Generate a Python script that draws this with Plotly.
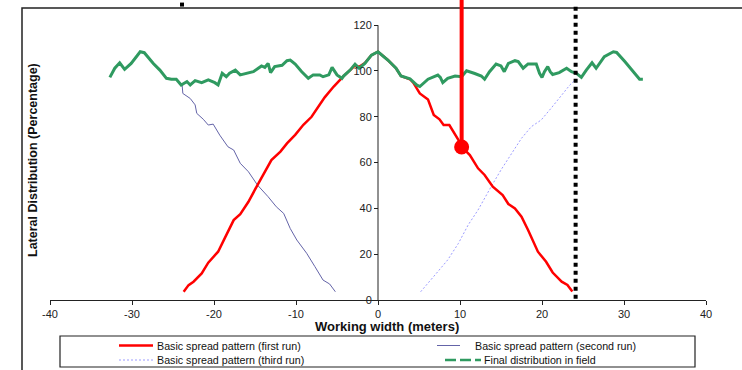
import plotly.graph_objects as go

# ---------------- data ----------------
first_run_x = [-23.7, -23.1, -22.5, -21.5, -20.7, -19.5, -18.7, -17.6, -16.8, -15.8, -14.7, -14.0, -13.0,
               -11.9, -11.1, -10.1, -9.1, -8.1, -7.4, -6.5, -5.4, -4.6, -4.2, -3.4, -2.8, -2.3, -1.6, -0.8,
               0.0, 1.2, 2.2, 2.8, 3.9, 4.3, 5.1, 6.1, 6.8, 7.5, 8.0, 8.7, 9.8, 10.2, 11.2, 12.2, 13.0, 14.0,
               15.2, 15.9, 16.7, 17.5, 18.3, 19.5, 20.5, 21.3, 22.4, 23.1, 23.7]
first_run_y = [3.6, 6.5, 8.0, 11.6, 16.3, 21.1, 26.9, 34.9, 37.5, 42.9, 50.2, 54.6, 61.1,
               64.8, 68.4, 72.1, 76.5, 80.0, 83.5, 88.5, 93.2, 96.4, 97.8, 100.4, 102.5, 101.8, 103.5, 106.9,
               108.4, 104.8, 101.2, 97.8, 96.4, 94.9, 90.2, 87.5, 80.8, 78.9, 76.4, 76.4, 69.9, 66.9, 63.3, 57.5,
               54.6, 49.5, 45.8, 41.9, 40.0, 36.4, 30.6, 21.1, 16.7, 12.0, 8.0, 6.6, 3.7]

second_run_x = [-23.9, -23.8, -22.9, -22.3, -22.1, -21.3, -20.7, -20.1, -19.3, -18.3, -17.6, -16.8, -15.8,
                -14.7, -13.4, -12.4, -11.5, -10.7, -9.9, -8.7, -7.7, -6.7, -5.9, -5.2]
second_run_y = [94.5, 90.2, 88.0, 85.2, 81.5, 78.9, 76.4, 76.8, 72.0, 66.9, 65.5, 59.7, 56.0,
                50.2, 45.1, 40.7, 37.8, 31.2, 26.2, 20.4, 14.6, 8.7, 7.0, 3.6]

third_run_x = [5.2, 6.3, 7.3, 8.5, 9.8, 11.0, 12.2, 13.8, 15.0, 16.3, 17.5, 18.7, 19.9, 21.1, 22.4, 23.4, 24.0]
third_run_y = [3.6, 8.0, 12.4, 17.5, 24.7, 32.8, 39.3, 49.5, 56.8, 64.0, 70.6, 75.7, 78.6, 83.7, 89.5, 93.9, 96.0]

final_x = [-32.7, -32.1, -31.5, -30.9, -30.1, -29.0, -28.5, -27.4, -26.6, -25.8, -25.2, -24.6, -24.0, -23.3,
           -22.9, -22.3, -21.5, -20.7, -19.9, -19.5, -19.0, -18.5, -18.1, -17.4, -16.8, -16.0, -15.2, -14.6,
           -14.2, -13.8, -13.4, -13.1, -12.6, -11.7, -11.1, -10.7, -10.1, -9.3, -8.5, -7.9, -7.1, -6.7, -6.0,
           -5.6, -5.0, -4.4, -4.2, -3.4, -2.8, -2.3, -1.6, -0.8, 0.0, 1.2, 2.2, 2.8, 3.9, 4.7, 5.1, 6.1, 7.3,
           7.6, 7.9, 8.5, 9.4, 10.2, 10.8, 11.8, 12.6, 13.0, 13.6, 14.4, 15.0, 15.4, 15.9, 16.7, 17.1, 17.7,
           18.3, 19.3, 19.7, 20.0, 20.3, 20.7, 21.0, 21.3, 22.1, 23.0, 23.6, 24.2, 24.8, 25.4, 26.1, 26.6,
           27.6, 28.7, 29.1, 30.1, 31.1, 31.9, 32.3]
final_y = [97.2, 101.2, 103.6, 100.7, 103.3, 108.4, 108.0, 103.3, 100.4, 96.8, 96.4, 96.4, 93.9, 95.4,
           93.9, 95.8, 94.9, 96.1, 94.9, 93.9, 99.0, 97.5, 99.0, 100.4, 98.3, 99.0, 99.7, 101.2,
           102.2, 101.6, 103.3, 99.3, 101.9, 102.5, 104.5, 104.8, 103.0, 99.7, 96.8, 98.3, 98.3, 97.5, 98.3,
           101.6, 98.3, 96.8, 97.8, 100.4, 103.0, 101.2, 103.3, 106.9, 108.4, 104.8, 101.2, 97.8, 96.6, 93.9,
           93.2, 96.4, 98.2, 97.2, 94.9, 96.8, 97.8, 97.5, 100.1, 98.9, 97.8, 96.4, 99.7, 103.0, 102.2, 99.7,
           103.3, 104.5, 104.1, 101.2, 103.1, 103.1, 99.0, 97.2, 99.7, 101.9, 99.7, 98.5, 99.3, 101.2, 99.7,
           99.0, 97.2, 100.4, 103.6, 101.2, 106.3, 108.4, 108.1, 104.1, 99.7, 96.4, 96.4]

position_x = 10.2      # current position marker
position_y = 66.8
boundary_x = 24.1      # field boundary (dotted)
boundary_left_x = -23.9

x_ticks = [-40, -30, -20, -10, 0, 10, 20, 30, 40]
y_ticks = [0, 20, 40, 60, 80, 100, 120]

series_names = ["Basic spread pattern (first run)", "Basic spread pattern (second run)",
                "Basic spread pattern (third run)", "Final distribution in field"]

RED = "#ff0000"
BLUE = "#6464a8"
LIGHT = "#9c9cff"
GREEN = "#2f9a60"
FONT = "Liberation Sans, Arial, sans-serif"

fig = go.Figure()
fig.add_trace(go.Scatter(x=second_run_x, y=second_run_y, mode="lines",
                         line=dict(color=BLUE, width=1), name=series_names[1], showlegend=False))
fig.add_trace(go.Scatter(x=third_run_x, y=third_run_y, mode="lines",
                         line=dict(color=LIGHT, width=1, dash="2px,2px"), name=series_names[2], showlegend=False))
fig.add_trace(go.Scatter(x=first_run_x, y=first_run_y, mode="lines",
                         line=dict(color=RED, width=2.5), name=series_names[0], showlegend=False))
fig.add_trace(go.Scatter(x=final_x, y=final_y, mode="lines",
                         line=dict(color=GREEN, width=3), name=series_names[3], showlegend=False))
# position marker
fig.add_trace(go.Scatter(x=[position_x, position_x], y=[position_y, 131], mode="lines",
                         line=dict(color=RED, width=4), showlegend=False))
fig.add_trace(go.Scatter(x=[position_x], y=[position_y], mode="markers",
                         marker=dict(color=RED, size=15), showlegend=False))
# boundary dotted line
fig.add_trace(go.Scatter(x=[boundary_x, boundary_x], y=[0.5, 129.5], mode="lines",
                         line=dict(color="black", width=4, dash="4px,4px"), showlegend=False))
fig.add_trace(go.Scatter(x=[boundary_left_x], y=[129], mode="markers",
                         marker=dict(color="black", size=4, symbol="square"), showlegend=False))

W, H = 742, 370
L, R, T, B = 50, 36, 0, 70
pw, ph = W - L - R, H - T - B


def px2x(px):
    return (px - L) / pw


def py2y(py):
    return (T + ph - py) / ph


shapes = []
# outer frame (clipped by the page on the right and bottom)
shapes.append(dict(type="rect", xref="paper", yref="paper", x0=px2x(22), x1=1.2, y0=-0.6, y1=py2y(8),
                   line=dict(color="#222", width=1.5), layer="below"))
# y axis line at x = 0
shapes.append(dict(type="line", xref="x", yref="y", x0=0, x1=0, y0=0, y1=120,
                   line=dict(color="#222", width=1), layer="below"))
# legend box
shapes.append(dict(type="rect", xref="paper", yref="paper", x0=px2x(60), x1=px2x(695),
                   y0=py2y(367), y1=py2y(336), line=dict(color="#222", width=1.2), fillcolor="white"))
row1, row2 = py2y(345.5), py2y(360)
shapes.append(dict(type="line", xref="paper", yref="paper", x0=px2x(119), x1=px2x(153), y0=row1, y1=row1,
                   line=dict(color=RED, width=2.5)))
shapes.append(dict(type="line", xref="paper", yref="paper", x0=px2x(119), x1=px2x(153), y0=row2, y1=row2,
                   line=dict(color=LIGHT, width=1, dash="2px,2px")))
shapes.append(dict(type="line", xref="paper", yref="paper", x0=px2x(437), x1=px2x(460), y0=row1, y1=row1,
                   line=dict(color=BLUE, width=1)))
shapes.append(dict(type="line", xref="paper", yref="paper", x0=px2x(445), x1=px2x(481), y0=row2, y1=row2,
                   line=dict(color=GREEN, width=2.5, dash="11px,4px")))

annotations = [
    dict(text="<b>Working width (meters)</b>", xref="paper", yref="paper", x=px2x(387), y=py2y(326),
         xanchor="center", yanchor="middle",
         showarrow=False, font=dict(family=FONT, size=13, color="#111")),
    dict(text="<b>Lateral Distribution (Percentage)</b>", xref="paper", yref="paper", x=px2x(33),
         y=py2y(160), xanchor="center", yanchor="middle", textangle=-90, showarrow=False,
         font=dict(family=FONT, size=12.5, color="#111")),
]
for txt, xp, yr in [(series_names[0], 155, row1), (series_names[2], 155, row2),
                    (series_names[1], 473, row1), (series_names[3], 482, row2)]:
    annotations.append(dict(text=txt, xref="paper", yref="paper", x=px2x(xp), y=yr, xanchor="left",
                            yanchor="middle", showarrow=False, font=dict(family=FONT, size=10.7, color="#111")))

fig.update_layout(
    width=W, height=H,
    margin=dict(l=L, r=R, t=T, b=B),
    paper_bgcolor="white", plot_bgcolor="white",
    showlegend=False,
    font=dict(family=FONT, size=11, color="#222"),
    xaxis=dict(range=[-40, 40], tickvals=x_ticks, ticktext=[str(v) for v in x_ticks],
               showgrid=False, zeroline=False, showline=True, linecolor="#222", linewidth=1,
               ticks="outside", ticklen=4, tickcolor="#222", tickfont=dict(size=11, color="#222")),
    yaxis=dict(range=[0, 131], tickvals=y_ticks, ticktext=[str(v) for v in y_ticks],
               anchor="free", position=0.5, showgrid=False, zeroline=False, showline=False,
               ticks="outside", ticklen=4, tickcolor="#222", tickfont=dict(size=11, color="#222")),
    shapes=shapes,
    annotations=annotations,
)

fig.write_html("out.html")
